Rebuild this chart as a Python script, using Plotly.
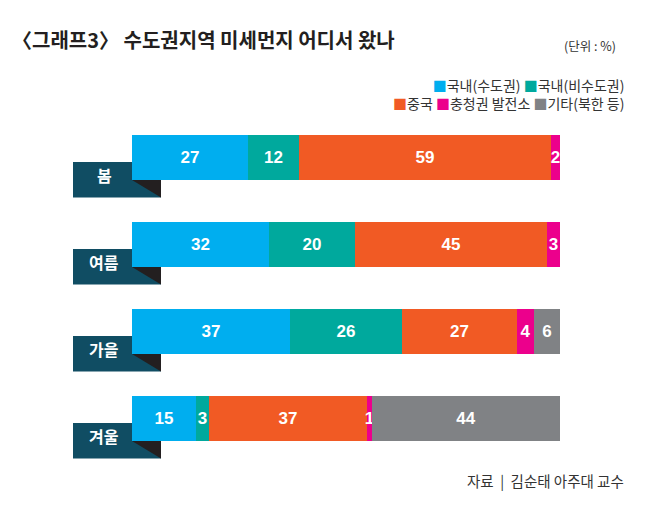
import plotly.graph_objects as go

# 데이터 (단위: %)
seasons = ["봄", "여름", "가을", "겨울"]
sources = ["국내(수도권)", "국내(비수도권)", "중국", "충청권 발전소", "기타(북한 등)"]
colors = ["#00aeef", "#00a99d", "#f15a24", "#ec008c", "#808285"]

capital = [27, 32, 37, 15]
non_capital = [12, 20, 26, 3]
china = [59, 45, 27, 37]
chungcheong = [2, 3, 4, 1]
other = [None, None, 6, 44]
series = [capital, non_capital, china, chungcheong, other]

title_text = "〈그래프3〉 수도권지역 미세먼지 어디서 왔나"
unit_text = "(단위 : %)"
source_text = "자료  |  김순태 아주대 교수"

# 페이지 body 기본 여백(8px)을 감안한 크기
OFF = 8
W, H = 650 - OFF, 511 - OFF
ML, MR, MT, MB = 132 - OFF, 90, 114 - OFF, 49
KR = "Noto Sans CJK KR"
NUM = "Liberation Sans, Arial, sans-serif"


def px(x, y):
    """화면 픽셀 -> paper 좌표"""
    pw = W - ML - MR
    ph = H - MT - MB
    return (x - OFF - ML) / pw, (H - MB - (y - OFF)) / ph


fig = go.Figure()

ypos = list(range(len(seasons)))
for name, vals, col in zip(sources, series, colors):
    fig.add_trace(
        go.Bar(
            y=ypos,
            x=vals,
            orientation="h",
            name=name,
            width=0.52,
            marker=dict(color=col, line=dict(width=0)),
            texttemplate="%{x}",
            textposition="inside",
            insidetextanchor="middle",
            textangle=0,
            constraintext="none",
            textfont=dict(family=NUM, size=17, color="white", weight="bold"),
            hoverinfo="skip",
            showlegend=False,
        )
    )

# 계절 라벨 탭 (막대 뒤 상자 + 검은 삼각형)
box_x0, _ = px(73, 0)
box_x1, _ = px(161, 0)
lx, _ = px(104, 0)
shapes = []
annotations = []
for i, s in enumerate(seasons):
    shapes.append(
        dict(
            type="rect", xref="paper", yref="y",
            x0=box_x0, x1=box_x1, y0=i + 0.052, y1=i + 0.46,
            fillcolor="#104d63", line=dict(width=0), layer="below",
        )
    )
    shapes.append(
        dict(
            type="path", xref="paper", yref="y",
            path=f"M 0,{i + 0.26} L {box_x1},{i + 0.26} L {box_x1},{i + 0.46} Z",
            fillcolor="#231f20", line=dict(width=0), layer="below",
        )
    )
    annotations.append(
        dict(
            xref="paper", yref="y", x=lx, y=i + 0.2, text=s, showarrow=False,
            xanchor="center", yanchor="middle",
            font=dict(family=KR, size=16, color="white", weight="bold"),
        )
    )


# 범례 (두 줄, 오른쪽 정렬)
def legend_row(idx):
    parts = []
    for k in idx:
        parts.append(f"<span style='color:{colors[k]}'>■</span>{sources[k]}")
    return " ".join(parts)


legend_text = legend_row([0, 1]) + "<br>" + legend_row([2, 3, 4])
x, yy = px(626, 94)
annotations.append(
    dict(
        xref="paper", yref="paper", x=x, y=yy, text=legend_text, showarrow=False,
        xanchor="right", yanchor="middle", align="right",
        font=dict(family=KR, size=14, color="#333333"),
    )
)

x, yy = px(618, 45)
annotations.append(
    dict(
        xref="paper", yref="paper", x=x, y=yy, text=unit_text, showarrow=False,
        xanchor="right", yanchor="middle",
        font=dict(family=KR, size=12.5, color="#333333"),
    )
)
x, yy = px(626, 480)
annotations.append(
    dict(
        xref="paper", yref="paper", x=x, y=yy, text=source_text, showarrow=False,
        xanchor="right", yanchor="middle",
        font=dict(family=KR, size=14.5, color="#333333"),
    )
)

fig.update_layout(
    width=W,
    height=H,
    barmode="stack",
    bargap=0,
    margin=dict(l=ML, r=MR, t=MT, b=MB),
    paper_bgcolor="white",
    plot_bgcolor="white",
    title=dict(
        text=title_text, x=(12 - OFF) / W, xref="container", xanchor="left",
        y=1 - (41 - OFF) / H, yref="container", yanchor="middle",
        font=dict(family=KR, size=20, color="#231f20", weight="bold"),
    ),
    xaxis=dict(range=[0, 100], visible=False, fixedrange=True),
    yaxis=dict(range=[3.5, -0.5], visible=False, fixedrange=True),
    shapes=shapes,
    annotations=annotations,
)

fig.write_html("out.html")
